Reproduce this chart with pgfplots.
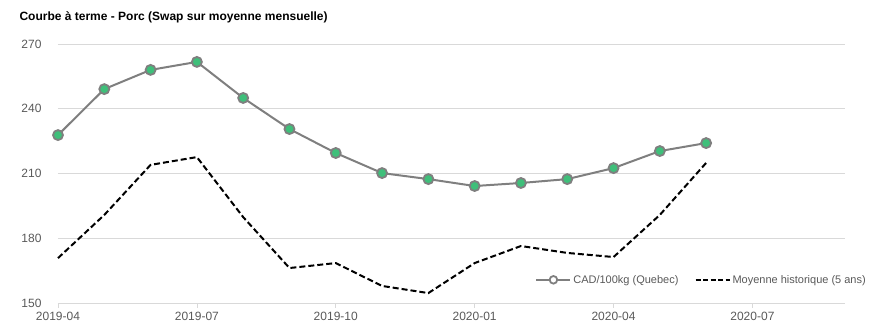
\documentclass[border=0pt]{standalone}
\usepackage{pgfplots}
\pgfplotsset{compat=1.18}
\usepackage{fontspec}
\setmainfont{Liberation Sans}
\definecolor{lgray}{HTML}{7F7F7F}
\definecolor{mgreen}{HTML}{3FBF7A}
\definecolor{tgray}{HTML}{595959}
\definecolor{ggray}{HTML}{D9D9D9}
\begin{document}
\begin{tikzpicture}[x=1pt,y=1pt]
\useasboundingbox (0,0) rectangle (880,334);
\node[anchor=west,font=\fontsize{12}{14}\selectfont\bfseries] at (16,317) {Courbe à terme - Porc (Swap sur moyenne mensuelle)};
\begin{axis}[
  at={(58pt,31pt)}, anchor=south west,
  scale only axis, width=787pt, height=259pt,
  xmin=0, xmax=17, ymin=150, ymax=270,
  xtick={0,3,6,9,12,15},
  xticklabels={2019-04,2019-07,2019-10,2020-01,2020-04,2020-07},
  ytick={150,180,210,240,270},
  ymajorgrids, grid style={ggray, line width=0.75pt},
  axis x line*=bottom, axis y line*=left,
  x axis line style={ggray,-, line width=0.75pt},
  y axis line style={draw=none},
  xtick style={ggray, line width=0.75pt},
  tick align=outside, major tick length=5pt,
  ytick style={draw=none},
  tick label style={font=\fontsize{12}{14}\selectfont, text=tgray},
  /pgf/number format/assume math mode=true,
  yticklabel style={xshift=-8pt},
  xticklabel style={yshift=-1pt},
  legend style={draw=none, fill=none, at={(1,0.055)}, xshift=26pt, anchor=south east, legend columns=2, font=\fontsize{11}{13}\selectfont, text=tgray, /tikz/every even column/.append style={column sep=14pt}},
  clip=false,
]
\addplot[lgray, line width=2pt, mark=*, mark size=5pt, mark options={fill=mgreen, draw=lgray, line width=1.8pt},
  legend image code/.code={\draw[lgray,line width=1.8pt] (0pt,0pt) -- (34pt,0pt); \draw[lgray,fill=white,line width=1.8pt] (17pt,0pt) circle (3.8pt);}]
coordinates {(0,227.8) (1,249.1) (2,258) (3,261.7) (4,245) (5,230.6) (6,219.5) (7,210.2) (8,207.4) (9,204.2) (10,205.6) (11,207.4) (12,212.5) (13,220.4) (14,224.1)};
\addlegendentry{CAD/100kg (Quebec)}
\addplot[black, line width=2pt, dash pattern=on 6pt off 3pt,
  legend image code/.code={\draw[black,line width=2pt,dash pattern=on 5pt off 2.5pt] (0pt,0pt) -- (34pt,0pt);}]
coordinates {(0,170.8) (1,190.8) (2,214) (3,217.6) (4,189.8) (5,166.2) (6,168.5) (7,157.9) (8,154.6) (9,168.5) (10,176.4) (11,173.2) (12,171.3) (13,190.8) (14,214.9)};
\addlegendentry{Moyenne historique (5 ans)}
\end{axis}
\end{tikzpicture}
\end{document}
